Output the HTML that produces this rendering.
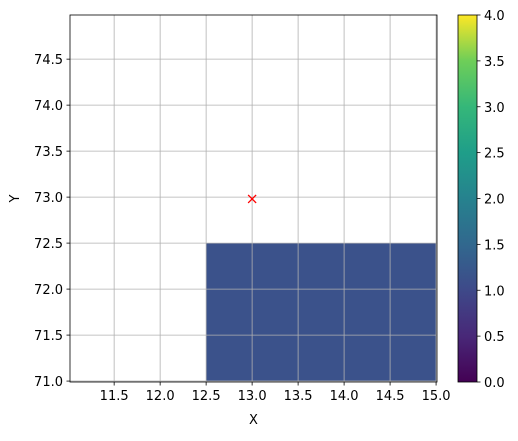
<!DOCTYPE html>
<html><head><meta charset="utf-8"><style>body{margin:0;background:#fff}svg{font-family:"DejaVu Sans","Liberation Sans",sans-serif}</style></head>
<body>
<svg id="c" width="518" height="436" xmlns="http://www.w3.org/2000/svg">
<defs><linearGradient id="vir" x1="0" y1="1" x2="0" y2="0">
<stop offset="0" stop-color="#440154"/><stop offset="0.125" stop-color="#482878"/><stop offset="0.25" stop-color="#3e4989"/><stop offset="0.375" stop-color="#31688e"/><stop offset="0.5" stop-color="#26828e"/><stop offset="0.625" stop-color="#1f9e89"/><stop offset="0.75" stop-color="#35b779"/><stop offset="0.875" stop-color="#6ece58"/><stop offset="1" stop-color="#fde725"/></linearGradient></defs>
</svg>
<script>
const xTicks=[11.5,12.0,12.5,13.0,13.5,14.0,14.5,15.0];
const yTicks=[71.0,71.5,72.0,72.5,73.0,73.5,74.0,74.5];
const cbTicks=[0,0.5,1,1.5,2,2.5,3,3.5,4];
const cellX0=[12.5];const cellX1=[15.0];const cellY0=[71.0];const cellY1=[72.5];const cellV=[1];
const markX=[13.0];const markY=[72.98];
const L=70,R=437,T=15,B=382,xmin=11.02,xmax=15.01,ymin=70.99,ymax=74.98;
const sx=v=>L+(v-xmin)/(xmax-xmin)*(R-L);
const sy=v=>B-(v-ymin)/(ymax-ymin)*(B-T);
const cbL=458,cbR=477,cy=v=>B-v/4*(B-T);
const svg=document.getElementById('c');const NS='http://www.w3.org/2000/svg';
function mk(t,a,txt){const e=document.createElementNS(NS,t);for(const k in a)e.setAttribute(k,a[k]);if(txt!==undefined)e.textContent=txt;svg.appendChild(e);return e;}
const vir=['#440154','#3b528b','#21918c','#5ec962','#fde725'];
cellV.forEach((v,i)=>{const e=mk('rect',{x:sx(cellX0[i]),y:sy(cellY1[i]),width:sx(cellX1[i])-sx(cellX0[i]),height:sy(cellY0[i])-sy(cellY1[i]),fill:vir[Math.round(v)]});

});
xTicks.forEach(v=>{const x=sx(v);
const g=mk('line',{x1:x,x2:x,y1:T,y2:B,stroke:'#b0b0b0','stroke-width':0.8});
mk('line',{x1:x,x2:x,y1:B,y2:B+3.5,stroke:'#000','stroke-width':0.8});
const t=mk('text',{x:x,y:B+18,'text-anchor':'middle','font-size':13},v.toFixed(1));});
yTicks.forEach(v=>{const y=sy(v);
const g=mk('line',{x1:L,x2:R,y1:y,y2:y,stroke:'#b0b0b0','stroke-width':0.8});
mk('line',{x1:L-3.5,x2:L,y1:y,y2:y,stroke:'#000','stroke-width':0.8});
const t=mk('text',{x:L-7,y:y+5,'text-anchor':'end','font-size':13},v.toFixed(1));});
markX.forEach((v,i)=>{const x=sx(v),y=sy(markY[i]);const p=mk('path',{d:`M${x-4} ${y-4}L${x+4} ${y+4}M${x-4} ${y+4}L${x+4} ${y-4}`,stroke:'red','stroke-width':1.3});

});
const f=mk('rect',{x:L,y:T,width:R-L,height:B-T,fill:'none',stroke:'#000','stroke-width':0.8});
const xl=mk('text',{x:(L+R)/2,y:424,'text-anchor':'middle','font-size':13},'X');
const yl=mk('text',{x:19,y:(T+B)/2,'text-anchor':'middle','font-size':13,transform:`rotate(-90 19 ${(T+B)/2})`},'Y');
const cb=mk('rect',{x:cbL,y:T,width:cbR-cbL,height:B-T,fill:'url(#vir)',stroke:'#000','stroke-width':0.8});
cbTicks.forEach(v=>{const y=cy(v);mk('line',{x1:cbR,x2:cbR+3.5,y1:y,y2:y,stroke:'#000','stroke-width':0.8});
const t=mk('text',{x:cbR+7,y:y+5,'font-size':13},v.toFixed(1));});
</script>
</body></html>
